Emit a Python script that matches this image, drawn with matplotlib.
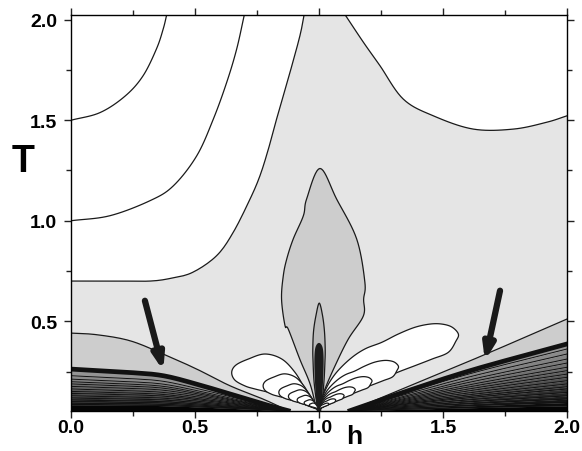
import numpy as np
import matplotlib
matplotlib.use("Agg")
import matplotlib.pyplot as plt

plt.rcParams['font.family'] = ['Liberation Sans', 'DejaVu Sans']
plt.rcParams['font.weight'] = 'bold'

# ---------------- data (h, T) ----------------
# iso-lines in the upper white region
line_a_h = [0.0, 0.117, 0.218, 0.29, 0.345, 0.372, 0.386]
line_a_T = [1.5, 1.538, 1.62, 1.72, 1.856, 1.955, 2.025]
line_b_h = [0.0, 0.157, 0.319, 0.413, 0.507, 0.574, 0.628, 0.668, 0.699]
line_b_T = [1.0, 1.025, 1.10, 1.174, 1.323, 1.506, 1.689, 1.854, 2.025]
# boundary white / light grey (left)
line_c_h = [0.0, 0.2, 0.32, 0.40, 0.49, 0.587, 0.654, 0.722, 0.762, 0.796, 0.829, 0.883, 0.923, 0.94]
line_c_T = [0.70, 0.70, 0.70, 0.713, 0.743, 0.826, 0.942, 1.108, 1.224, 1.357, 1.506, 1.738, 1.92, 2.025]
# boundary white / light grey (right)
line_d_h = [1.105, 1.179, 1.246, 1.34, 1.461, 1.622, 1.784, 1.918, 2.0]
line_d_T = [2.025, 1.888, 1.771, 1.605, 1.522, 1.456, 1.456, 1.49, 1.522]
# medium grey "flame" above h = 1
flame_h = [0.99, 0.964, 0.923, 0.876, 0.863, 0.849, 0.856, 0.87, 0.896, 0.937, 0.95, 1.004,
           1.071, 1.152, 1.185, 1.18, 1.179, 1.118, 1.065, 1.024, 1.004]
flame_T = [0.063, 0.188, 0.31, 0.461, 0.478, 0.61, 0.726, 0.81, 0.909, 1.025, 1.108, 1.26,
           1.108, 0.909, 0.694, 0.61, 0.527, 0.411, 0.279, 0.163, 0.087]
inner_h = [0.997, 0.99, 0.98, 0.976, 0.975, 0.978, 0.988, 1.001, 1.014, 1.022, 1.025, 1.024, 1.02, 1.012, 1.003]
inner_T = [0.063, 0.10, 0.20, 0.30, 0.36, 0.45, 0.53, 0.59, 0.53, 0.45, 0.36, 0.30, 0.20, 0.10, 0.063]
core_h = [0.995, 0.99, 0.986, 0.986, 0.99, 1.0, 1.01, 1.014, 1.014, 1.01, 1.005]
core_T = [0.055, 0.15, 0.26, 0.33, 0.37, 0.387, 0.37, 0.33, 0.26, 0.15, 0.055]
# outer lobes at both sides of h = 1 and the relative sizes of the nested ones
lobe_r_h = [1.0, 1.024, 1.065, 1.125, 1.185, 1.253, 1.319, 1.387, 1.448, 1.495, 1.536, 1.562,
            1.552, 1.521, 1.456, 1.387, 1.319, 1.253, 1.185, 1.125, 1.065, 1.02]
lobe_r_T = [0.063, 0.153, 0.237, 0.312, 0.362, 0.395, 0.436, 0.470, 0.486, 0.486, 0.471, 0.436,
            0.401, 0.345, 0.312, 0.279, 0.247, 0.212, 0.178, 0.143, 0.108, 0.078]
lobe_l_h = [0.996, 0.984, 0.944, 0.903, 0.850, 0.782, 0.715, 0.665, 0.648, 0.661, 0.702, 0.742,
            0.823, 0.903, 0.971]
lobe_l_T = [0.063, 0.080, 0.163, 0.246, 0.312, 0.337, 0.312, 0.282, 0.246, 0.207, 0.178, 0.163,
            0.138, 0.105, 0.072]
lobe_r_sizes = [1.0, 0.57, 0.38, 0.26, 0.18, 0.12, 0.07]
lobe_l_sizes = [1.0, 0.64, 0.46, 0.35, 0.25, 0.17, 0.11]
lobe_anchor = (1.0, 0.063)
# low-temperature band, left side
band_le_h = [0.0, 0.104, 0.238, 0.372, 0.507, 0.641, 0.776, 0.876]
band_le_T = [0.441, 0.433, 0.403, 0.337, 0.262, 0.179, 0.112, 0.055]
band_lf_h = [0.0, 0.238, 0.372, 0.507, 0.641, 0.776, 0.876]
band_lf_T = [0.262, 0.245, 0.229, 0.187, 0.138, 0.088, 0.055]
band_l_levels = [0.229, 0.212, 0.199, 0.188, 0.176, 0.163, 0.151, 0.141, 0.129,
                 0.118, 0.108, 0.100, 0.092, 0.085]
# low-temperature band, right side
band_re_h = [1.125, 1.609, 2.0]
band_re_T = [0.055, 0.303, 0.511]
band_rf_h = [1.125, 1.3, 1.609, 2.0]
band_rf_T = [0.055, 0.13, 0.254, 0.387]
band_r_levels = [0.362, 0.337, 0.312, 0.292, 0.271, 0.254, 0.237, 0.221, 0.204,
                 0.188, 0.174, 0.163, 0.146, 0.129, 0.113, 0.096, 0.08]
# arrows (tail, head)
arrows = [((0.298, 0.602), (0.372, 0.254)), ((1.73, 0.652), (1.669, 0.303))]

H_MIN, H_MAX, T_MIN, T_MAX = 0.0, 2.0, 0.055, 2.025
LIGHT, MED, INNER, CORE = '#e5e5e5', '#cdcdcd', '#b9b9b9', '#1c1c1c'
LW = 0.9
LC = '#1a1a1a'


def smooth(xs, ys, n=10, closed=False):
    """Catmull-Rom rendering of a curve through the read points."""
    P = np.column_stack([xs, ys]).astype(float)
    if closed:
        Q = np.vstack([P[-1], P, P[0], P[1]])
    else:
        Q = np.vstack([2 * P[0] - P[1], P, 2 * P[-1] - P[-2]])
    t = np.linspace(0, 1, n, endpoint=False)[:, None]
    segs = []
    for i in range(1, len(Q) - 2):
        p0, p1, p2, p3 = Q[i - 1], Q[i], Q[i + 1], Q[i + 2]
        segs.append(0.5 * (2 * p1 + (-p0 + p2) * t + (2 * p0 - 5 * p1 + 4 * p2 - p3) * t ** 2
                           + (-p0 + 3 * p1 - 3 * p2 + p3) * t ** 3))
    segs.append((P[0] if closed else P[-1])[None])
    S = np.vstack(segs)
    return S[:, 0], S[:, 1]


fig = plt.figure(figsize=(5.82, 4.52), dpi=100)
ax = fig.add_axes([71 / 582, 1 - 411.7 / 452, 496 / 582, 396 / 452])
ax.set_facecolor(LIGHT)
ax.set_xlim(H_MIN, H_MAX)
ax.set_ylim(T_MIN, T_MAX)

# white regions
ch, cT = smooth(line_c_h, line_c_T)
ax.fill(np.r_[ch, 0.0], np.r_[cT, T_MAX], color='white', lw=0, zorder=1)
ax.plot(ch, cT, color=LC, lw=LW, zorder=2)
dh, dT = smooth(line_d_h, line_d_T)
ax.fill(np.r_[dh, H_MAX], np.r_[dT, T_MAX], color='white', lw=0, zorder=1)
ax.plot(dh, dT, color=LC, lw=LW, zorder=2)
ax.plot(*smooth(line_a_h, line_a_T), color=LC, lw=LW, zorder=2)
ax.plot(*smooth(line_b_h, line_b_T), color=LC, lw=LW, zorder=2)

# flame
fh, fT = smooth(flame_h, flame_T)
ax.fill(fh, fT, facecolor=MED, edgecolor=LC, lw=LW, zorder=3)
ih, iT = smooth(inner_h, inner_T)
ax.fill(ih, iT, facecolor=INNER, edgecolor=LC, lw=LW, zorder=4)
kh, kT = smooth(core_h, core_T)
ax.fill(kh, kT, facecolor=CORE, edgecolor=CORE, lw=1.5, zorder=5)


# lobes
def draw_lobes(hs, Ts, sizes):
    hs, Ts = smooth(hs, Ts, closed=True)
    for s in sizes:
        ax.fill(lobe_anchor[0] + s * (hs - lobe_anchor[0]),
                lobe_anchor[1] + s * (Ts - lobe_anchor[1]),
                facecolor='white', edgecolor=LC, lw=LW, zorder=6)


draw_lobes(lobe_r_h, lobe_r_T, lobe_r_sizes)
draw_lobes(lobe_l_h, lobe_l_T, lobe_l_sizes)


# low temperature bands
def draw_band(e_h, e_T, f_h, f_T, levels, ref_T, h0, h1):
    hh = np.linspace(h0, h1, 300)
    eh, eT = smooth(e_h, e_T)
    sh, sT = smooth(f_h, f_T)
    e = np.interp(hh, eh, eT)
    f = np.interp(hh, sh, sT)
    ax.fill_between(hh, f, e, color=MED, lw=0, zorder=7)
    ax.plot(hh, e, color=LC, lw=LW, zorder=8)
    prof = (f - T_MIN) / (ref_T - T_MIN)
    curves = [f] + [T_MIN + (lv - T_MIN) * prof for lv in levels] + [np.full_like(hh, T_MIN)]
    n = len(curves) - 1
    for i in range(n):
        g = 0.58 - 0.56 * i / (n - 1)
        ax.fill_between(hh, curves[i + 1], curves[i], color=str(g), lw=0, zorder=7)
    for c in curves[1:-1]:
        ax.plot(hh, c, color='#111111', lw=0.7, zorder=8)
    ax.plot(hh, f, color='#111111', lw=3.4, zorder=9)


draw_band(band_le_h, band_le_T, band_lf_h, band_lf_T, band_l_levels, band_lf_T[0], 0.0, 0.876)
draw_band(band_re_h, band_re_T, band_rf_h, band_rf_T, band_r_levels, band_rf_T[-1], 1.125, 2.0)

# arrows
for tail, head in arrows:
    ax.annotate('', xy=head, xytext=tail,
                arrowprops=dict(arrowstyle='-|>,head_length=0.9,head_width=0.32',
                                lw=4.5, color='#1a1a1a', shrinkA=0, shrinkB=0),
                zorder=20)

# axes styling
ax.set_xticks([0.0, 0.5, 1.0, 1.5, 2.0])
ax.set_xticklabels(['0.0', '0.5', '1.0', '1.5', '2.0'])
ax.set_yticks([0.5, 1.0, 1.5, 2.0])
ax.set_yticklabels(['0.5', '1.0', '1.5', '2.0'])
ax.set_xticks([0.25, 0.75, 1.25, 1.75], minor=True)
ax.set_yticks([0.25, 0.75, 1.25, 1.75], minor=True)
ax.tick_params(which='both', direction='out', top=True, right=True, width=1.0, color='#222222')
ax.tick_params(which='major', length=5)
ax.tick_params(which='minor', length=3.5)
ax.tick_params(axis='x', which='major', labelsize=14, pad=1)
ax.tick_params(axis='y', which='major', labelsize=14, pad=5)
for lab in ax.get_xticklabels() + ax.get_yticklabels():
    lab.set_fontweight('bold')
for sp in ax.spines.values():
    sp.set_linewidth(1.0)
    sp.set_zorder(30)

fig.text(23 / 582, 1 - 162 / 452, 'T', fontsize=27, fontweight='bold', ha='center', va='center')
fig.text(354 / 582, 1 - 444 / 452, 'h', fontsize=19, fontweight='bold', ha='center', va='baseline')

fig.savefig('out.png', dpi=100)
